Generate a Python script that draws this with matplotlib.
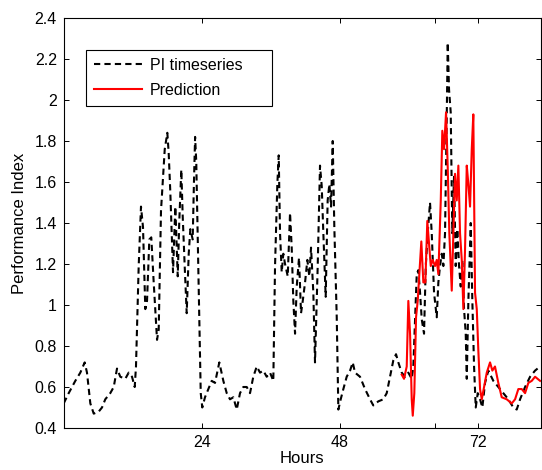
import matplotlib
matplotlib.use("Agg")
import matplotlib.pyplot as plt

plt.rcParams['font.family'] = ['Liberation Sans', 'DejaVu Sans']

hours_pi = [0, 0.87, 2.02, 2.89, 3.65, 4.05, 4.63, 5.22, 6.09, 6.66,
            7.23, 8.10, 8.70, 9.27, 9.84, 10.71, 11.30, 11.88, 12.35, 12.57,
            13.04, 13.44, 13.79, 14.19, 14.49, 14.89, 15.23, 15.65, 16.23, 16.52,
            16.92, 17.22, 17.57, 18.02, 18.26, 18.54, 19.01, 19.41, 19.83, 20.10,
            20.45, 20.70, 21.04, 21.39, 21.74, 22.02, 22.43, 22.65, 22.85, 23.05,
            23.41, 23.83, 24.1, 24.57, 25.15, 25.74, 26.31, 27.06, 27.76, 28.35,
            28.92, 29.5, 30.09, 30.66, 31.23, 31.83, 32.4, 32.97, 33.57, 34.14,
            34.71, 35.3, 35.88, 36.45, 36.75, 37.15, 37.39, 37.62, 37.91, 38.19,
            38.49, 38.96, 39.36, 39.65, 39.93, 40.23, 40.52, 40.92, 41.27, 41.57,
            41.97, 42.37, 42.71, 43.01, 43.41, 43.7, 44.17, 44.57, 44.87, 45.15,
            45.56, 45.9, 46.2, 46.49, 46.78, 47.06, 47.48, 47.76, 48.17, 48.63,
            49.21, 49.8, 50.26, 50.66, 51.53, 52.4, 53.27, 53.84, 54.71, 55.58,
            56.17, 56.75, 57.32, 57.79, 58.19, 58.78, 59.36, 59.93, 60.52, 60.8,
            61.1, 61.39, 61.67, 61.97, 62.26, 62.66, 62.96, 63.3, 63.7, 64.0,
            64.4, 64.87, 65.15, 65.44, 65.74, 66.02, 66.31, 66.61, 66.78, 67.01,
            67.3, 67.58, 67.88, 68.17, 68.45, 68.75, 69.04, 69.32, 69.62, 69.91,
            70.09, 70.37, 70.78, 71.06, 71.36, 71.65, 72.0, 72.4, 72.8, 73.27,
            73.84, 74.71, 75.58, 76.45, 77.32, 78.19, 78.78, 79.36, 80.23, 81.1,
            81.97, 82.84]
pi_values = [0.52, 0.57, 0.63, 0.67, 0.72, 0.67, 0.52, 0.47, 0.48, 0.50,
             0.54, 0.57, 0.60, 0.69, 0.65, 0.64, 0.67, 0.65, 0.60, 0.70,
             1.19, 1.48, 1.38, 0.98, 1.02, 1.32, 1.33, 1.11, 0.83, 0.88,
             1.46, 1.60, 1.76, 1.84, 1.74, 1.55, 1.16, 1.48, 1.14, 1.41,
             1.66, 1.43, 1.19, 0.96, 1.25, 1.37, 1.32, 1.60, 1.82, 1.70,
             1.19, 0.57, 0.50, 0.55, 0.59, 0.63, 0.62, 0.72, 0.63, 0.57,
             0.54, 0.55, 0.49, 0.57, 0.60, 0.60, 0.57, 0.65, 0.70, 0.67,
             0.68, 0.65, 0.67, 0.63, 1.19, 1.59, 1.73, 1.35, 1.16, 1.25,
             1.20, 1.14, 1.45, 1.28, 1.02, 0.86, 1.09, 1.23, 0.96, 1.02,
             1.11, 1.22, 1.14, 1.28, 1.06, 0.72, 1.19, 1.68, 1.58, 1.35,
             1.04, 1.51, 1.59, 1.48, 1.80, 1.38, 0.94, 0.49, 0.54, 0.59,
             0.65, 0.68, 0.72, 0.67, 0.65, 0.59, 0.54, 0.51, 0.53, 0.54,
             0.57, 0.65, 0.73, 0.76, 0.72, 0.67, 0.65, 0.67, 0.64, 0.70,
             0.93, 1.15, 1.17, 1.06, 0.93, 0.86, 1.19, 1.35, 1.50, 1.35,
             1.06, 0.94, 1.11, 1.19, 1.25, 1.19, 1.35, 1.92, 2.28, 2.05,
             1.94, 1.35, 1.63, 1.19, 1.37, 1.19, 1.09, 1.22, 0.98, 0.86,
             0.64, 1.02, 1.40, 1.02, 0.70, 0.50, 0.57, 0.54, 0.50, 0.62,
             0.68, 0.63, 0.60, 0.57, 0.54, 0.50, 0.49, 0.54, 0.60, 0.65,
             0.68, 0.70]

hours_pred = [58.78, 59.18, 59.65, 59.93, 60.23, 60.52, 60.7, 60.97, 61.27, 61.56,
              61.84, 62.19, 62.54, 62.89, 63.23, 63.53, 63.83, 64.17, 64.57, 64.87,
              65.15, 65.57, 65.84, 66.14, 66.49, 66.78, 67.06, 67.48, 67.76, 68.05,
              68.35, 68.63, 68.92, 69.22, 69.5, 69.79, 70.09, 70.37, 70.66, 70.96,
              71.23, 71.53, 71.83, 72.1, 72.4, 72.7, 73.1, 73.57, 74.14, 74.54,
              75.0, 75.58, 76.17, 77.04, 77.91, 78.49, 79.06, 79.65, 80.23, 80.8,
              81.39, 81.97, 82.84]
pred_values = [0.66, 0.64, 0.70, 1.02, 0.86, 0.54, 0.46, 0.57, 0.94, 1.02,
               1.15, 1.31, 1.11, 1.11, 1.41, 1.30, 1.19, 1.22, 1.19, 1.22,
               1.15, 1.51, 1.85, 1.76, 1.94, 1.67, 1.35, 1.07, 1.35, 1.64,
               1.51, 1.68, 1.35, 1.22, 0.98, 1.27, 1.68, 1.59, 1.48, 1.76,
               1.93, 1.06, 0.98, 0.78, 0.59, 0.54, 0.60, 0.67, 0.72, 0.68,
               0.70, 0.62, 0.55, 0.54, 0.52, 0.54, 0.59, 0.59, 0.57, 0.62,
               0.63, 0.65, 0.63]

x_ticks = [24, 48, 64.5, 72]
x_tick_labels = ['24', '48', '', '72']
y_ticks = [0.4, 0.6, 0.8, 1.0, 1.2, 1.4, 1.6, 1.8, 2.0, 2.2, 2.4]
y_tick_labels = ['0.4', '0.6', '0.8', '1', '1.2', '1.4', '1.6', '1.8', '2', '2.2', '2.4']

fig = plt.figure(figsize=(5.42, 4.70), dpi=100)
ax = fig.add_axes([63.7 / 542, 42 / 470, (541 - 63.7) / 542, 410 / 470])

ax.plot(hours_pi, pi_values, color='black', linestyle=(0, (3, 2)), linewidth=1.5,
        label='PI timeseries')
ax.plot(hours_pred, pred_values, color='#ff0000', linestyle='-', linewidth=1.5,
        label='Prediction')

ax.set_xlim(0, 83)
ax.set_ylim(0.4, 2.4)
ax.set_xticks(x_ticks)
ax.set_xticklabels(x_tick_labels)
ax.set_yticks(y_ticks)
ax.set_yticklabels(y_tick_labels)
ax.tick_params(direction='in', top=True, right=True, length=3.5, width=0.7,
               labelsize=11.5, pad=5)
for s in ax.spines.values():
    s.set_linewidth(0.8)

ax.set_xlabel('Hours', fontsize=12, labelpad=1)
ax.set_ylabel('Performance Index', fontsize=12, labelpad=5)

leg = ax.legend(loc='upper left', bbox_to_anchor=(0.047, 0.78, 0.39, 0.142),
                mode='expand', borderaxespad=0,
                fancybox=False, edgecolor='black', framealpha=1, fontsize=11.5,
                handlelength=3.0, handletextpad=0.5, borderpad=0.5,
                labelspacing=0.6)
leg.get_frame().set_linewidth(0.8)

fig.savefig('out.png', dpi=100)
